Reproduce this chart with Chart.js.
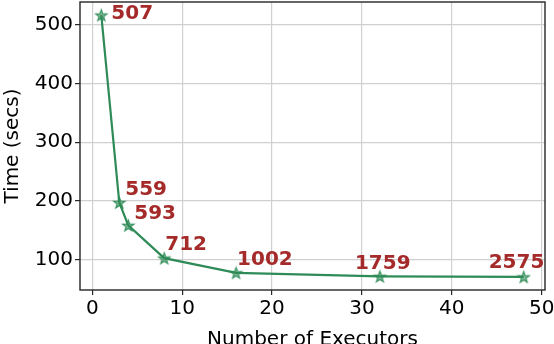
<!DOCTYPE html>
<html>
<head>
<meta charset="utf-8">
<script src="https://cdn.jsdelivr.net/npm/chart.js@4/dist/chart.umd.min.js"></script>
<style>
  html, body { margin: 0; padding: 0; overflow: hidden; background: #fff; }
  #wrap { width: 554px; height: 353px; }
</style>
</head>
<body>
<div id="wrap"><canvas id="c" width="554" height="353"></canvas></div>
<script>
// ---- data ----
const executors = [1, 3, 4, 8, 16, 32, 48];
const timeSecs = [517, 197, 158, 102, 77, 71, 70];
const pointLabels = ['507', '559', '593', '712', '1002', '1759', '2575'];
const xTicks = [0, 10, 20, 30, 40, 50];
const yTicks = [100, 200, 300, 400, 500];

// ---- style ----
const GREEN = '#2E8B57';
const BROWN = '#A52A2A';
const FONT = "'DejaVu Sans', sans-serif";

function makeStar(r) {
  const size = Math.ceil(r * 2 + 3);
  const cv = document.createElement('canvas');
  cv.width = size; cv.height = size;
  const c = cv.getContext('2d');
  const cx = size / 2, cy = size / 2 + 0.6;
  const inner = r * 0.4;
  c.beginPath();
  for (let i = 0; i < 10; i++) {
    const rad = i % 2 === 0 ? r : inner;
    const a = -Math.PI / 2 + i * Math.PI / 5;
    const px = cx + rad * Math.cos(a), py = cy + rad * Math.sin(a);
    if (i === 0) c.moveTo(px, py); else c.lineTo(px, py);
  }
  c.closePath();
  c.fillStyle = 'rgba(46,139,87,0.6)';
  c.fill();
  c.lineWidth = 1.1;
  c.strokeStyle = GREEN;
  c.stroke();
  return cv;
}
const star = makeStar(6);

// label offsets (pixels relative to the point)
const labelDx = [10, 6, 6, 1, 1, -25, -35];
const labelDy = [-1, -13, -12, -13, -13, -13, -14];

const framePlugin = {
  id: 'frame',
  afterDatasetsDraw(chart) {
    const { ctx, chartArea: a } = chart;
    ctx.save();
    ctx.strokeStyle = '#262626';
    ctx.lineWidth = 1.4;
    ctx.strokeRect(a.left, a.top, a.right - a.left, a.bottom - a.top);
    ctx.restore();
  },
  afterDraw(chart) {
    const { ctx } = chart;
    const meta = chart.getDatasetMeta(0);
    ctx.save();
    ctx.font = "bold 20px " + FONT;
    ctx.fillStyle = BROWN;
    ctx.textAlign = 'left';
    ctx.textBaseline = 'middle';
    meta.data.forEach((pt, i) => {
      ctx.fillText(pointLabels[i], pt.x + labelDx[i], pt.y + labelDy[i]);
    });
    ctx.restore();
  }
};

const tickFont = { family: FONT, size: 20 };

new Chart(document.getElementById('c'), {
  type: 'line',
  data: {
    datasets: [{
      data: executors.map((x, i) => ({ x: x, y: timeSecs[i] })),
      borderColor: GREEN,
      backgroundColor: GREEN,
      borderWidth: 2.2,
      tension: 0,
      fill: false,
      pointStyle: star,
      pointRadius: 6,
      pointHoverRadius: 6
    }]
  },
  options: {
    responsive: false,
    animation: false,
    events: [],
    layout: { autoPadding: false, padding: { top: 2, right: 0, left: 0, bottom: 0 } },
    plugins: { legend: { display: false }, tooltip: { enabled: false } },
    scales: {
      x: {
        type: 'linear',
        min: -1.37,
        max: 50.37,
        afterBuildTicks: (s) => { s.ticks = xTicks.map(v => ({ value: v })); },
        afterFit: (s) => { s.height = 63; s.paddingLeft = 0; s.paddingRight = 9; },
        ticks: { font: tickFont, color: '#000', padding: 2, maxRotation: 0, autoSkip: false },
        grid: { color: '#d0d0d0', lineWidth: 1.2, tickColor: '#262626', tickLength: 5, tickWidth: 1.2 },
        border: { display: false },
        title: {
          display: true,
          text: 'Number of Executors',
          font: { family: FONT, size: 20 },
          color: '#000',
          padding: { top: 0, bottom: 1 }
        }
      },
      y: {
        type: 'linear',
        min: 47.65,
        max: 539.35,
        afterBuildTicks: (s) => { s.ticks = yTicks.map(v => ({ value: v })); },
        afterFit: (s) => { s.width = 80; s.paddingTop = 0; s.paddingBottom = 0; },
        ticks: { font: tickFont, color: '#000', padding: 2 },
        grid: { color: '#d0d0d0', lineWidth: 1.2, tickColor: '#262626', tickLength: 5, tickWidth: 1.2 },
        border: { display: false },
        title: {
          display: true,
          text: 'Time (secs)',
          font: { family: FONT, size: 20 },
          color: '#000',
          padding: { top: 1, bottom: 0 }
        }
      }
    }
  },
  plugins: [framePlugin]
});
</script>
</body>
</html>
